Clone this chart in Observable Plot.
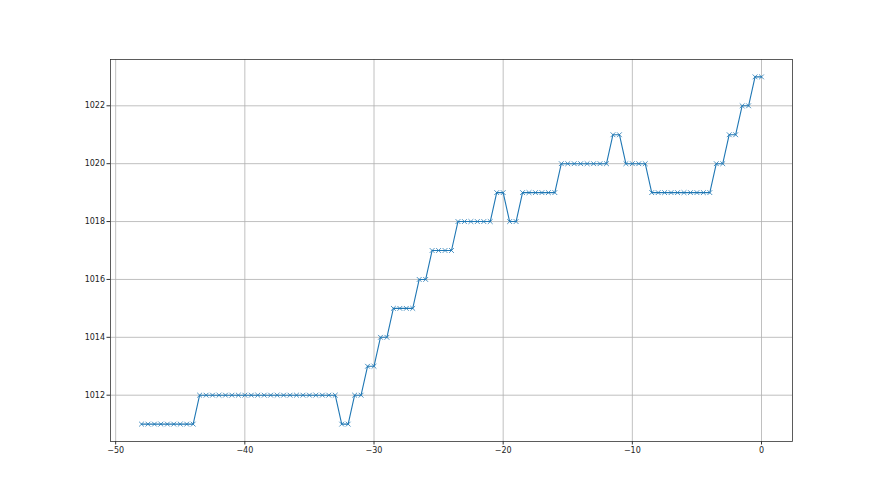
<!DOCTYPE html>
<html>
<head>
<meta charset="utf-8">
<script src="https://cdn.jsdelivr.net/npm/d3@7"></script>
<script src="https://cdn.jsdelivr.net/npm/@observablehq/plot@0.6"></script>
<style>
  html, body { margin: 0; padding: 0; background: #fff; }
  #chart svg { display: block; }
</style>
</head>
<body>
<div id="chart"></div>
<script>
const times = [
  -48, -47.5, -47, -46.5, -46, -45.5, -45, -44.5, -44,
  -43.5, -43, -42.5, -42, -41.5, -41, -40.5, -40, -39.5, -39, -38.5,
  -38, -37.5, -37, -36.5, -36, -35.5, -35, -34.5, -34, -33.5, -33,
  -32.5, -32, -31.5, -31, -30.5, -30, -29.5, -29,
  -28.5, -28, -27.5, -27, -26.5, -26, -25.5, -25, -24.5, -24,
  -23.5, -23, -22.5, -22, -21.5, -21, -20.5, -20, -19.5, -19,
  -18.5, -18, -17.5, -17, -16.5, -16,
  -15.5, -15, -14.5, -14, -13.5, -13, -12.5, -12, -11.5, -11,
  -10.5, -10, -9.5, -9,
  -8.5, -8, -7.5, -7, -6.5, -6, -5.5, -5, -4.5, -4,
  -3.5, -3, -2.5, -2, -1.5, -1, -0.5, 0
];
const pressure = [
  1011, 1011, 1011, 1011, 1011, 1011, 1011, 1011, 1011,
  1012, 1012, 1012, 1012, 1012, 1012, 1012, 1012, 1012, 1012, 1012,
  1012, 1012, 1012, 1012, 1012, 1012, 1012, 1012, 1012, 1012, 1012,
  1011, 1011, 1012, 1012, 1013, 1013, 1014, 1014,
  1015, 1015, 1015, 1015, 1016, 1016, 1017, 1017, 1017, 1017,
  1018, 1018, 1018, 1018, 1018, 1018, 1019, 1019, 1018, 1018,
  1019, 1019, 1019, 1019, 1019, 1019,
  1020, 1020, 1020, 1020, 1020, 1020, 1020, 1020, 1021, 1021,
  1020, 1020, 1020, 1020,
  1019, 1019, 1019, 1019, 1019, 1019, 1019, 1019, 1019, 1019,
  1020, 1020, 1021, 1021, 1022, 1022, 1023, 1023
];
const xTicks = [-50, -40, -30, -20, -10, 0];
const yTicks = [1012, 1014, 1016, 1018, 1020, 1022];

const data = times.map((t, i) => ({t, p: pressure[i]}));
const blue = "#1f77b4";
const fontFamily = "'DejaVu Sans', sans-serif";

const chart = Plot.plot({
  width: 880,
  height: 495,
  marginLeft: 110,
  marginRight: 88,
  marginTop: 59,
  marginBottom: 54,
  style: {fontFamily, fontSize: "8px", color: "#222", background: "#fff"},
  x: {domain: [-50.4, 2.4]},
  y: {domain: [1010.4, 1023.6]},
  marks: [
    Plot.gridX(xTicks, {stroke: "#b0b0b0", strokeOpacity: 1, strokeWidth: 0.8}),
    Plot.gridY(yTicks, {stroke: "#b0b0b0", strokeOpacity: 1, strokeWidth: 0.8}),
    Plot.line(data, {x: "t", y: "p", stroke: blue, strokeWidth: 1.1}),
    Plot.dot(data, {x: "t", y: "p", symbol: "times", r: 2.3, stroke: blue, strokeWidth: 0.8}),
    Plot.frame({stroke: "#333", strokeWidth: 0.8}),
    Plot.axisX(xTicks, {tickSize: 3.5, tickPadding: 2, fontSize: 8, label: null, stroke: "#333"}),
    Plot.axisY(yTicks, {tickSize: 3.5, tickPadding: 2, fontSize: 8, label: null, stroke: "#333", tickFormat: d => String(d)})
  ]
});
document.getElementById("chart").appendChild(chart);
</script>
</body>
</html>
